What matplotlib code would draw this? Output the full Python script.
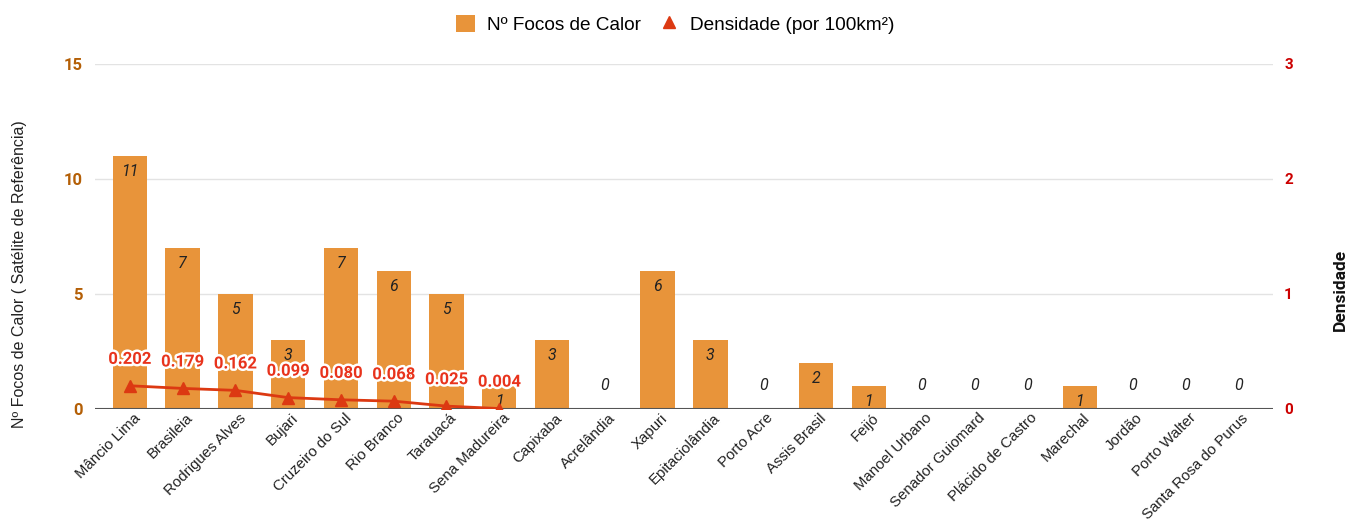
import numpy as np
import matplotlib
matplotlib.use('Agg')
import matplotlib.pyplot as plt
import matplotlib.patheffects as pe
import matplotlib.transforms as mtransforms
from matplotlib.lines import Line2D
from matplotlib.patches import Patch

# data
municipios = ['Mâncio Lima', 'Brasileia', 'Rodrigues Alves', 'Bujari', 'Cruzeiro do Sul',
              'Rio Branco', 'Tarauacá', 'Sena Madureira', 'Capixaba', 'Acrelândia',
              'Xapuri', 'Epitaciolândia', 'Porto Acre', 'Assis Brasil', 'Feijó',
              'Manoel Urbano', 'Senador Guiomard', 'Plácido de Castro', 'Marechal',
              'Jordão', 'Porto Walter', 'Santa Rosa do Purus']
focos = [11, 7, 5, 3, 7, 6, 5, 1, 3, 0, 6, 3, 0, 2, 1, 0, 0, 0, 1, 0, 0, 0]
densidade = [0.202, 0.179, 0.162, 0.099, 0.080, 0.068, 0.025, 0.004]

bar_color = '#e8943a'
line_color = '#dc3912'
left_tick_color = '#b45f06'
right_tick_color = '#cc0000'

fig = plt.figure(figsize=(13.51, 5.23), dpi=100)
ax = fig.add_axes([0.0703, 0.218, 0.872, 0.6597])
ax2 = ax.twinx()

x = np.arange(len(municipios))
ax.bar(x, focos, width=0.65, color=bar_color, zorder=2)
ax.set_xlim(-0.66, len(municipios) - 1 + 0.66)
ax.set_ylim(0, 15)
ax.set_yticks([0, 5, 10, 15])
ax.grid(axis='y', color='#e3e3e3', linewidth=1, zorder=0)
ax.axhline(0, color='#555555', linewidth=1.5, zorder=3)
for s in ax.spines.values():
    s.set_visible(False)
for s in ax2.spines.values():
    s.set_visible(False)

ax.tick_params(axis='y', length=0, pad=9, labelcolor=left_tick_color)
for lab in ax.get_yticklabels():
    lab.set_fontfamily('Roboto')
    lab.set_fontweight('bold')
    lab.set_fontsize(12)

ax.set_xticks(x)
ax.set_xticklabels(municipios, rotation=45, ha='right', va='center',
                   rotation_mode='anchor', fontsize=10.8,
                   fontfamily='Liberation Sans', color='#222222')
ax.tick_params(axis='x', length=0, pad=5)
shift = mtransforms.ScaledTranslation(8 / 100, 0, fig.dpi_scale_trans)
for lab in ax.get_xticklabels():
    lab.set_transform(lab.get_transform() + shift)

ax.set_ylabel('Nº Focos de Calor ( Satélite de Referência)', fontsize=11.5,
              fontfamily='Liberation Sans', color='#222222')
ax.yaxis.set_label_coords(-0.058, 0.39)

# value labels on the bars
for xi, v in zip(x, focos):
    off = 17 if v == 0 else -11
    ax.annotate(str(v), (xi, v), xytext=(0, off), textcoords='offset points',
                ha='center', va='center', fontsize=11.5, style='italic',
                fontfamily='Roboto', color='#222222', zorder=5)

# density line on the right axis
xd = x[:len(densidade)]
ax2.plot(xd, densidade, color=line_color, linewidth=2, marker='^',
         markersize=8, zorder=4)
ax2.set_ylim(0, 3)
ax2.set_yticks([0, 1, 2, 3])
ax2.tick_params(axis='y', length=0, pad=8, labelcolor=right_tick_color)
for lab in ax2.get_yticklabels():
    lab.set_fontfamily('Roboto')
    lab.set_fontweight('bold')
    lab.set_fontsize(11)
ax2.set_ylabel('Densidade', fontsize=12.5, fontweight='bold', fontfamily='Roboto',
               color='#111111', rotation=90)
ax2.yaxis.set_label_coords(1.051, 0.345)

for xi, d in zip(xd, densidade):
    ax2.annotate('%.3f' % d, (xi, d), xytext=(0, 19), textcoords='offset points',
                 ha='center', va='center', fontsize=12, fontweight='bold',
                 fontfamily='Roboto', color='#e8331c', zorder=6,
                 path_effects=[pe.withStroke(linewidth=3.5, foreground='white')])

handles = [Patch(facecolor=bar_color, edgecolor='none'),
           Line2D([], [], color=line_color, marker='^', linestyle='none', markersize=9)]
fig.legend(handles, ['Nº Focos de Calor', 'Densidade (por 100km²)'],
           loc='upper center', bbox_to_anchor=(0.5, 1.005), ncol=2, frameon=False,
           prop={'family': 'Liberation Sans', 'size': 13.7}, handlelength=1.0,
           handleheight=1.0, columnspacing=1.0, handletextpad=0.6)

fig.savefig('out.png', dpi=100, facecolor='white')
